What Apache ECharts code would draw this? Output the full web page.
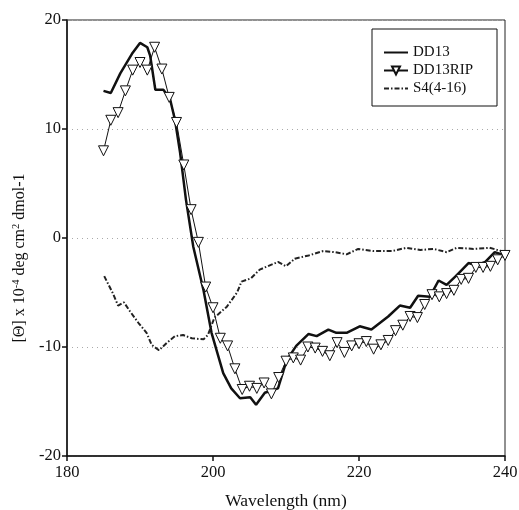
<!DOCTYPE html>
<html>
<head>
<meta charset="utf-8">
<script src="https://cdn.jsdelivr.net/npm/echarts@6/dist/echarts.min.js"></script>
<style>
html,body{margin:0;padding:0;background:#fff;}
#chart{width:519px;height:510px;}
</style>
</head>
<body>
<div id="chart"></div>
<script>
// Wavelengths (nm) and values for DD13 (solid line)
const dd13Wl  = [185,186,187.3,188.9,190,191,191.4,192.1,193.2,194.1,194.8,195.5,196.3,197.3,198.7,199.8,201.4,202.5,203.7,205.1,205.9,207.1,208.9,210.1,211.4,213.1,214.2,215.8,216.9,218.3,220.1,221.7,224,225.6,227,228.1,229.7,230.9,232,233.4,235,236.1,237.3,238.6,240];
const dd13Val = [13.5,13.3,15.1,16.9,17.9,17.5,16.7,13.6,13.6,12.8,10.8,7.8,3.5,-0.8,-4.8,-8.7,-12.4,-13.8,-14.7,-14.6,-15.3,-14.2,-13.8,-11.2,-9.9,-8.8,-9.0,-8.4,-8.7,-8.7,-8.1,-8.4,-7.2,-6.2,-6.4,-5.3,-5.4,-3.9,-4.3,-3.4,-2.3,-2.5,-2.2,-1.3,-1.6];

// DD13RIP (line with hollow down-triangles), every 1 nm from 185 to 240
const ripWl  = [185,186,187,188,189,190,191,192,193,194,195,196,197,198,199,200,201,202,203,204,205,206,207,208,209,210,211,212,213,214,215,216,217,218,219,220,221,222,223,224,225,226,227,228,229,230,231,232,233,234,235,236,237,238,239,240];
const ripVal = [8.0,10.8,11.5,13.5,15.4,16.1,15.4,17.5,15.5,12.9,10.6,6.7,2.6,-0.4,-4.5,-6.4,-9.2,-9.9,-12.0,-13.9,-13.6,-13.8,-13.3,-14.3,-12.8,-11.3,-11.0,-11.2,-10.0,-10.1,-10.4,-10.8,-9.6,-10.5,-9.9,-9.7,-9.5,-10.2,-9.8,-9.4,-8.5,-8.0,-7.2,-7.3,-6.1,-5.2,-5.4,-5.1,-4.8,-3.8,-3.7,-2.7,-2.7,-2.6,-2.0,-1.6];

// S4(4-16) (dash-dot line)
const s4Wl  = [185.1,186.3,187,187.8,188.6,189.8,190.9,191.6,192.6,193.7,194.8,195.9,197.1,198.7,199.3,200.2,201.9,203.3,203.9,205.2,206.4,207.1,208.9,210,211.2,213.1,215.1,216.7,218.3,219.9,222,224.5,226.5,228.4,230.2,232,233.4,235.7,237.9,239.5,240];
const s4Val = [-3.5,-5.1,-6.2,-5.9,-6.7,-7.8,-8.7,-9.8,-10.3,-9.6,-9.0,-8.9,-9.2,-9.3,-8.9,-7.3,-6.3,-5.0,-4.0,-3.7,-2.9,-2.7,-2.2,-2.6,-1.9,-1.6,-1.2,-1.3,-1.5,-1.0,-1.2,-1.2,-0.9,-1.1,-1.0,-1.3,-0.9,-1.0,-0.9,-1.2,-1.4];

const seriesNames = ['DD13', 'DD13RIP', 'S4(4-16)'];
const xTicks = {min: 180, max: 240, step: 20};
const yTicks = {min: -20, max: 20, step: 10};

const zip = (a, b) => a.map((v, i) => [v, b[i]]);
const FONT = "'Liberation Serif', 'Times New Roman', serif";

const chart = echarts.init(document.getElementById('chart'), null, {renderer: 'canvas'});
chart.setOption({
  backgroundColor: '#fff',
  animation: false,
  textStyle: {fontFamily: FONT, color: '#111'},
  grid: {left: 67, right: 14, top: 20, bottom: 54, show: true, borderColor: '#222', borderWidth: 1,
         backgroundColor: 'transparent', containLabel: false, outerBoundsMode: 'none'},
  legend: {
    left: 372, top: 29,
    orient: 'vertical',
    data: [
      {name: seriesNames[0], itemStyle: {opacity: 0}},
      {name: seriesNames[1]},
      {name: seriesNames[2], itemStyle: {opacity: 0}}
    ],
    backgroundColor: '#fff',
    borderColor: '#111', borderWidth: 1,
    padding: [16, 24, 10, 11],
    itemWidth: 24, itemHeight: 10, itemGap: 3,
    textStyle: {fontFamily: FONT, fontSize: 15, color: '#111'}
  },
  xAxis: {
    type: 'value', min: xTicks.min, max: xTicks.max, interval: xTicks.step,
    name: 'Wavelength (nm)', nameLocation: 'middle', nameGap: 36,
    nameTextStyle: {fontFamily: FONT, fontSize: 17.5, color: '#111'},
    axisLine: {show: true, onZero: false, lineStyle: {color: '#111', width: 1.5}},
    axisTick: {show: true, inside: false, length: 5, lineStyle: {color: '#111', width: 1.5}},
    axisLabel: {fontFamily: FONT, fontSize: 16.5, color: '#111', margin: 8},
    splitLine: {show: false}
  },
  yAxis: {
    type: 'value', min: yTicks.min, max: yTicks.max, interval: yTicks.step,
    name: '{a|[Θ] x 10}{s|-4}{a| deg cm}{s|2}{a| dmol-1}',
    nameLocation: 'middle', nameGap: 33, nameRotate: 90,
    nameTextStyle: {
      fontFamily: FONT, color: '#111',
      padding: [0, 40, 0, 0],
      rich: {
        a: {fontFamily: FONT, fontSize: 16, color: '#111'},
        s: {fontFamily: FONT, fontSize: 10.5, color: '#111', verticalAlign: 'top', padding: [0, 0, 7, 0]}
      }
    },
    axisLine: {show: true, onZero: false, lineStyle: {color: '#111', width: 1.5}},
    axisTick: {show: true, inside: false, length: 5, lineStyle: {color: '#111', width: 1.5}},
    axisLabel: {fontFamily: FONT, fontSize: 16.5, color: '#111', margin: 6},
    splitLine: {show: true, lineStyle: {color: '#aaa', width: 1, type: [1, 4]}}
  },
  series: [
    {
      name: seriesNames[0], type: 'line', data: zip(dd13Wl, dd13Val),
      showSymbol: false, symbol: 'none',
      lineStyle: {color: '#111', width: 2.5},
      itemStyle: {color: '#111'}
    },
    {
      name: seriesNames[1], type: 'line', data: zip(ripWl, ripVal),
      symbol: 'triangle', symbolRotate: 180, symbolSize: 10, showSymbol: true,
      lineStyle: {color: '#111', width: 1},
      itemStyle: {color: '#fff', borderColor: '#111', borderWidth: 1}
    },
    {
      name: seriesNames[2], type: 'line', data: zip(s4Wl, s4Val),
      showSymbol: false, symbol: 'none',
      lineStyle: {color: '#222', width: 2, type: [5, 2, 1.5, 2]},
      itemStyle: {color: '#222'}
    }
  ]
});
</script>
</body>
</html>
